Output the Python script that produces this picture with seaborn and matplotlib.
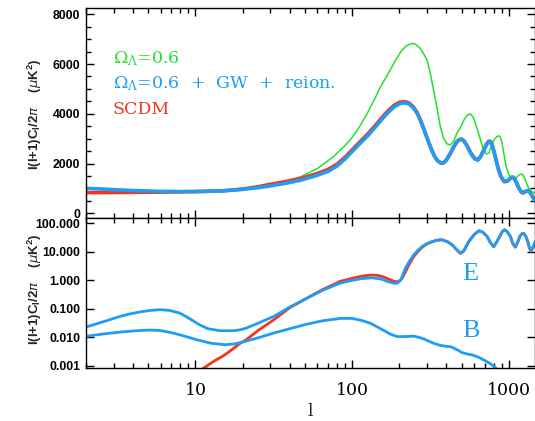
import numpy as np
import pandas as pd
import matplotlib
matplotlib.use("Agg")
import matplotlib.pyplot as plt
import seaborn as sns
from matplotlib.ticker import MultipleLocator, LogLocator, FixedLocator, FixedFormatter, NullFormatter

# ---------------- data ----------------
# Top panel: temperature power spectrum l(l+1)C_l/2pi  (uK^2)
l_T = [2, 2.5, 3, 4, 5, 6, 8, 10, 12, 15, 20, 25, 30, 38, 47, 60, 70, 80, 90, 100, 112, 125,
       140, 155, 170, 185, 200, 215, 230, 245, 260, 275, 290, 305, 320, 335, 350, 370, 385,
       400, 424, 445, 465, 485, 503, 520, 540, 560, 580, 605, 634, 660, 690, 720, 745, 765,
       785, 810, 835, 860, 890, 935, 980, 1010, 1040, 1064, 1090, 1120, 1160, 1200, 1230,
       1270, 1310, 1340, 1380, 1420, 1478]
v_blue_T = [1005, 975, 950, 915, 895, 880, 872, 875, 885, 900, 960, 1030, 1100, 1210, 1330,
            1530, 1680, 1900, 2180, 2480, 2800, 3100, 3450, 3780, 4060, 4270, 4400, 4440, 4400,
            4250, 4020, 3680, 3300, 2920, 2580, 2300, 2120, 2010, 2040, 2150, 2420, 2680, 2880,
            2970, 2975, 2880, 2720, 2510, 2340, 2190, 2140, 2270, 2500, 2750, 2870, 2860, 2700,
            2400, 2060, 1750, 1480, 1280, 1300, 1380, 1440, 1447, 1380, 1220, 1010, 860, 828,
            870, 915, 905, 800, 660, 480]
v_red_T = [830, 832, 835, 840, 845, 850, 860, 870, 885, 905, 975, 1065, 1165, 1280, 1400,
           1600, 1760, 1970, 2250, 2550, 2870, 3170, 3520, 3850, 4130, 4340, 4460, 4487, 4440,
           4290, 4050, 3700, 3310, 2930, 2590, 2300, 2120, 2010, 2030, 2140, 2400, 2660, 2860,
           2960, 2970, 2890, 2740, 2540, 2370, 2210, 2150, 2280, 2520, 2780, 2900, 2890, 2730,
           2420, 2070, 1760, 1480, 1270, 1290, 1375, 1440, 1447, 1385, 1225, 1010, 855, 820,
           860, 905, 900, 795, 655, 475]

l_green_T = [2, 3, 4, 6, 10, 15, 20, 25, 30, 38, 47, 60, 76, 90, 100, 112, 125, 140, 152, 165,
             175, 190, 205, 220, 241, 255, 270, 285, 301, 316, 330, 349, 365, 384, 405, 424,
             445, 465, 491, 520, 545, 569, 590, 610, 635, 659, 690, 720, 745, 775, 810, 845, 875,
             900, 930, 960, 1000, 1040, 1080, 1120, 1160, 1215, 1250, 1290, 1340, 1400, 1478]
v_green_T = [830, 835, 840, 850, 870, 920, 995, 1070, 1160, 1300, 1470, 1800, 2275, 2720,
             3050, 3500, 4020, 4620, 5100, 5470, 5760, 6170, 6500, 6720, 6830, 6790, 6650, 6430,
             6160, 5600, 5000, 4200, 3500, 3000, 2780, 2750, 2900, 3200, 3450, 3780, 3950, 3990,
             3880, 3650, 3300, 2950, 2550, 2385, 2420, 2700, 2980, 3100, 3107, 2900, 2400, 1900,
             1560, 1420, 1400, 1450, 1530, 1580, 1480, 1250, 1005, 880, 804]

# Bottom panel: polarization power spectra
l_red_E = [11, 13, 15, 17, 19.4, 21.1, 25, 31.6, 40, 51.6, 65, 84, 100, 115, 131, 145, 160,
           175, 188, 198, 208, 219, 232, 247, 265, 280, 300, 316, 345, 375, 405, 435, 465, 491,
           515, 535, 555, 600, 643, 680, 726, 765, 802, 835, 875, 905, 937, 975, 1023, 1060,
           1101, 1140, 1175, 1210, 1245, 1285, 1322, 1355, 1386, 1430, 1478]
v_red_E = [0.00075, 0.0014, 0.0022, 0.0036, 0.0063, 0.0082, 0.017, 0.041, 0.11, 0.238, 0.48,
           0.92, 1.18, 1.40, 1.53, 1.50, 1.30, 1.05, 0.90, 0.90, 1.15, 2.0, 3.8, 6.8, 10.8,
           14.5, 19.0, 21.5, 25.5, 26.6, 23.0, 17.5, 11.8, 8.8, 10.5, 15.5, 22.5, 40, 55, 50,
           35, 20.5, 15.0, 21.5, 35, 50, 60, 52, 35, 19.5, 14.5, 21.5, 34, 43, 45, 35, 22.5,
           13.5, 10.5, 14.5, 22]

l_blue_E = [2, 2.3, 2.7, 3.29, 3.8, 4.5, 5.2, 5.92, 6.8, 7.94, 9, 10.6, 12, 14.3, 17.4, 19.4,
            21.1, 25, 31.6, 40, 51.6, 65, 84, 100, 115, 134, 152, 170, 185, 195, 205, 219, 232,
            247, 265, 280, 300, 316, 345, 375, 405, 435, 465, 491, 515, 535, 555, 600, 643, 680,
            726, 765, 802, 835, 875, 905, 937, 975, 1023, 1060, 1101, 1140, 1175, 1210, 1245,
            1285, 1322, 1355, 1386, 1430, 1478]
v_blue_E = [0.0229, 0.029, 0.038, 0.054, 0.066, 0.079, 0.088, 0.093, 0.088, 0.071, 0.048,
            0.0275, 0.020, 0.017, 0.017, 0.0184, 0.021, 0.031, 0.054, 0.115, 0.238, 0.45, 0.80,
            1.0, 1.15, 1.23, 1.12, 0.90, 0.79, 0.80, 1.05, 2.7, 4.7, 7.9, 11.8, 15.5, 19.5,
            22.0, 25.5, 26.6, 23.0, 17.8, 12.0, 9.1, 11.0, 16.0, 23.4, 40, 55, 50, 35, 21, 15.5,
            22, 35, 50, 60, 52, 35, 20, 15.5, 22, 35, 43, 45, 35, 23, 14, 11, 15, 23]

l_blue_B = [2, 2.5, 3.29, 4.2, 5.1, 6, 7.2, 8.5, 10.15, 12.5, 15.4, 17.5, 19.4, 21.1, 25, 31.6,
            40, 51.6, 65, 84, 100, 115, 131, 152, 175, 194, 220, 247, 270, 290, 330, 365, 400,
            430, 470, 503, 540, 584, 640, 692, 760, 822, 880]
v_blue_B = [0.0108, 0.0128, 0.0152, 0.0170, 0.0179, 0.0172, 0.0141, 0.011, 0.0082, 0.0062,
            0.00546, 0.0058, 0.0065, 0.0074, 0.0095, 0.0141, 0.020, 0.029, 0.038, 0.046, 0.046,
            0.039, 0.031, 0.020, 0.013, 0.0105, 0.0106, 0.011, 0.0098, 0.0085, 0.0062, 0.0052,
            0.0048, 0.0046, 0.0036, 0.0029, 0.0026, 0.0024, 0.0020, 0.0016, 0.0012, 0.00085,
            0.0006]

top_yticks = [0, 2000, 4000, 6000, 8000]
top_yticklabels = ["0", "2000", "4000", "6000", "8000"]
bot_yticks = [0.001, 0.01, 0.1, 1, 10, 100]
bot_yticklabels = ["0.001", "0.010", "0.100", "1.000", "10.000", "100.000"]
xticks = [10, 100, 1000]
xticklabels = ["10", "100", "1000"]

legend_labels = [r"$\Omega_\Lambda$=0.6", r"$\Omega_\Lambda$=0.6  +  GW  +  reion.", "SCDM"]

# ---------------- style ----------------
GREEN = "#22e22a"
BLUE = "#1e9cf6"
RED = "#f2361c"

sns.set_style("white")
plt.rcParams["font.family"] = ["DejaVu Sans"]
plt.rcParams["axes.linewidth"] = 1.0
plt.rcParams["axes.edgecolor"] = "black"

W, H = 535, 421
fig = plt.figure(figsize=(W / 100, H / 100), dpi=100)
L, R = 86, 535
ax1 = fig.add_axes([L / W, 1 - 218 / H, (R - L) / W, (218 - 8.3) / H])
ax2 = fig.add_axes([L / W, 1 - 368.3 / H, (R - L) / W, (368.3 - 218) / H], sharex=ax1)

# top panel
df_g = pd.DataFrame({"l": l_green_T, "v": v_green_T})
df_r = pd.DataFrame({"l": l_T, "v": v_red_T})
df_b = pd.DataFrame({"l": l_T, "v": v_blue_T})
sns.lineplot(data=df_g, x="l", y="v", ax=ax1, color=GREEN, linewidth=1.1, estimator=None, sort=False)
sns.lineplot(data=df_r, x="l", y="v", ax=ax1, color=RED, linewidth=2.6, estimator=None, sort=False)
sns.lineplot(data=df_b, x="l", y="v", ax=ax1, color=BLUE, linewidth=2.6, estimator=None, sort=False)

# bottom panel
df_re = pd.DataFrame({"l": l_red_E, "v": v_red_E})
df_be = pd.DataFrame({"l": l_blue_E, "v": v_blue_E})
df_bb = pd.DataFrame({"l": l_blue_B, "v": v_blue_B})
sns.lineplot(data=df_re, x="l", y="v", ax=ax2, color=RED, linewidth=2.0, estimator=None, sort=False)
sns.lineplot(data=df_be, x="l", y="v", ax=ax2, color=BLUE, linewidth=2.0, estimator=None, sort=False)
sns.lineplot(data=df_bb, x="l", y="v", ax=ax2, color=BLUE, linewidth=2.0, estimator=None, sort=False)

for ax in (ax1, ax2):
    ax.set_xscale("log")
    ax.set_xlabel("")
    ax.set_ylabel("")
    ax.tick_params(which="both", direction="in", top=True, right=True, bottom=True, left=True,
                   colors="black", width=1.0)
    ax.tick_params(which="major", length=6)
    ax.tick_params(which="minor", length=3.5)
    for s in ax.spines.values():
        s.set_visible(True)
        s.set_color("black")

ax1.set_xlim(2, 1470)
ax1.set_ylim(-190, 8240)
ax1.yaxis.set_major_locator(FixedLocator(top_yticks))
ax1.yaxis.set_major_formatter(FixedFormatter(top_yticklabels))
ax1.yaxis.set_minor_locator(MultipleLocator(500))
ax1.tick_params(axis="x", labelbottom=False)

ax2.set_yscale("log")
ax2.set_ylim(10 ** -3.09, 10 ** 2.19)
ax2.yaxis.set_major_locator(FixedLocator(bot_yticks))
ax2.yaxis.set_major_formatter(FixedFormatter(bot_yticklabels))
ax2.yaxis.set_minor_locator(LogLocator(base=10, subs=np.arange(2, 10)))
ax2.yaxis.set_minor_formatter(NullFormatter())

ax2.xaxis.set_major_locator(FixedLocator(xticks))
ax2.xaxis.set_major_formatter(FixedFormatter(xticklabels))
ax2.xaxis.set_minor_locator(LogLocator(base=10, subs=np.arange(2, 10)))
ax2.xaxis.set_minor_formatter(NullFormatter())

for ax in (ax1, ax2):
    for lab in ax.get_yticklabels():
        lab.set_fontfamily("Liberation Sans")
        lab.set_fontweight("bold")
        lab.set_fontsize(8.8)
    ax.tick_params(axis="y", pad=4)
for lab in ax2.get_xticklabels():
    lab.set_fontfamily("DejaVu Serif")
    lab.set_fontsize(12.5)
ax2.tick_params(axis="x", pad=10)

# axis labels
ylab = r"l(l+1)C$_\mathregular{l}$/2$\pi$    ($\mu$K$^\mathregular{2}$)"
fig.text(35 / W, 1 - 114 / H, ylab, rotation=90, ha="center", va="center",
         fontsize=9.5, fontweight="bold", family="Liberation Sans")
fig.text(35 / W, 1 - 289 / H, ylab, rotation=90, ha="center", va="center",
         fontsize=9.5, fontweight="bold", family="Liberation Sans")
fig.text(310 / W, 1 - 411 / H, "l", ha="center", va="center", fontsize=12.5, family="DejaVu Serif")

# legend texts
for txt, col, yb in zip(legend_labels, [GREEN, BLUE, RED], [63, 88.3, 114]):
    t = fig.text(113 / W, 1 - yb / H, txt, color=col, ha="left", va="baseline",
                 fontsize=12.5, family="DejaVu Serif")
    t.set_math_fontfamily("dejavuserif")

fig.text(462.7 / W, 1 - 280 / H, "E", color=BLUE, ha="left", va="baseline", fontsize=19,
         family="Liberation Serif")
fig.text(462.7 / W, 1 - 336.7 / H, "B", color=BLUE, ha="left", va="baseline", fontsize=19,
         family="Liberation Serif")

fig.savefig("out.png", dpi=100)
